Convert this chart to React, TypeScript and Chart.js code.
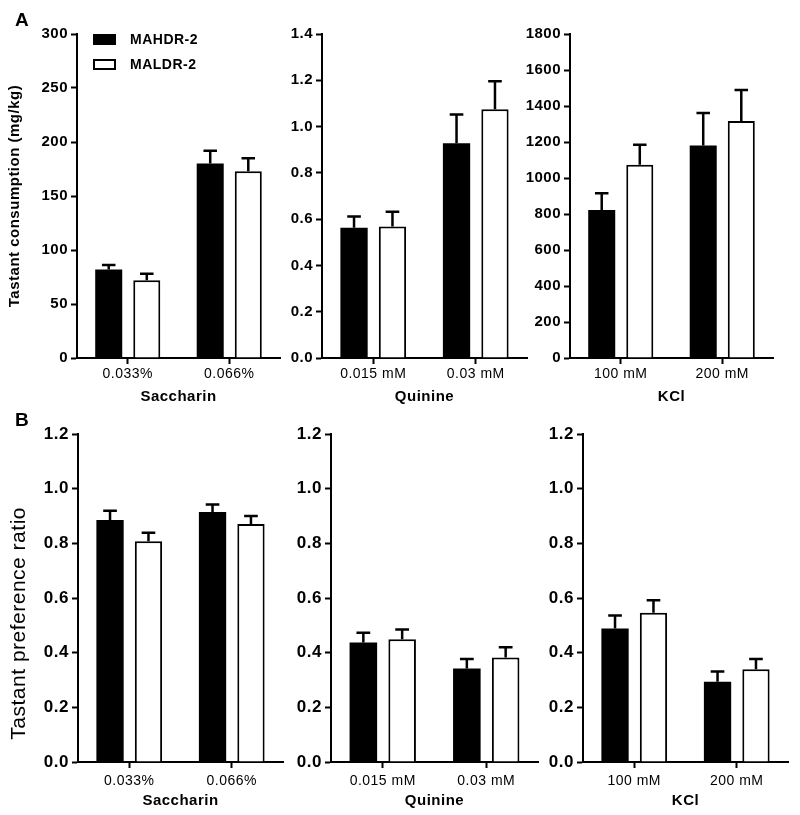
import React, { useEffect, useRef } from "react";
import { Chart, registerables } from "chart.js";

Chart.register(...registerables);

// ---------- data ----------
const SERIES_NAMES = ["MAHDR-2", "MALDR-2"];

const SACCHARIN_LABELS = ["0.033%", "0.066%"];
const QUININE_LABELS = ["0.015 mM", "0.03 mM"];
const KCL_LABELS = ["100 mM", "200 mM"];

// Panel A: tastant consumption (mg/kg) — means and SEM
const A_SAC_MAHDR = [82, 180];
const A_SAC_MAHDR_SEM = [4, 12];
const A_SAC_MALDR = [72, 173];
const A_SAC_MALDR_SEM = [6, 12];

const A_QUI_MAHDR = [0.563, 0.928];
const A_QUI_MAHDR_SEM = [0.048, 0.124];
const A_QUI_MALDR = [0.568, 1.075];
const A_QUI_MALDR_SEM = [0.064, 0.121];

const A_KCL_MAHDR = [822, 1181];
const A_KCL_MAHDR_SEM = [93, 180];
const A_KCL_MALDR = [1074, 1317];
const A_KCL_MALDR_SEM = [111, 172];

// Panel B: tastant preference ratio — means and SEM
const B_SAC_MAHDR = [0.885, 0.915];
const B_SAC_MAHDR_SEM = [0.034, 0.027];
const B_SAC_MALDR = [0.808, 0.871];
const B_SAC_MALDR_SEM = [0.031, 0.029];

const B_QUI_MAHDR = [0.437, 0.342];
const B_QUI_MAHDR_SEM = [0.036, 0.035];
const B_QUI_MALDR = [0.449, 0.382];
const B_QUI_MALDR_SEM = [0.036, 0.038];

const B_KCL_MAHDR = [0.488, 0.294];
const B_KCL_MAHDR_SEM = [0.048, 0.037];
const B_KCL_MALDR = [0.546, 0.339];
const B_KCL_MALDR_SEM = [0.046, 0.038];

const Y_TITLE_A = "Tastant consumption (mg/kg)";
const Y_TITLE_B = "Tastant preference ratio";

// ---------- layout ----------
type Panel = {
  id: string;
  x: number; y: number; w: number; h: number;
  yWidth: number; padTop: number; padRight: number; xHeight: number;
  labels: string[];
  high: number[]; highSem: number[];
  low: number[]; lowSem: number[];
  yMax: number; yStep: number; decimals: number;
  yTitle?: string; xTitle: string; row: "A" | "B"; legend?: boolean;
};

const FAMILY = '"Liberation Sans", Arial, Helvetica, sans-serif';

const PANELS: Panel[] = [
  { id: "a1", x: 0, y: 0, w: 290, h: 410, yWidth: 77, padTop: 34, padRight: 10, xHeight: 52,
    labels: SACCHARIN_LABELS, high: A_SAC_MAHDR, highSem: A_SAC_MAHDR_SEM, low: A_SAC_MALDR, lowSem: A_SAC_MALDR_SEM,
    yMax: 300, yStep: 50, decimals: 0, yTitle: Y_TITLE_A, xTitle: "Saccharin", row: "A", legend: true },
  { id: "a2", x: 280, y: 0, w: 265, h: 410, yWidth: 42, padTop: 34, padRight: 18, xHeight: 52,
    labels: QUININE_LABELS, high: A_QUI_MAHDR, highSem: A_QUI_MAHDR_SEM, low: A_QUI_MALDR, lowSem: A_QUI_MALDR_SEM,
    yMax: 1.4, yStep: 0.2, decimals: 1, xTitle: "Quinine", row: "A" },
  { id: "a3", x: 520, y: 0, w: 280, h: 410, yWidth: 50, padTop: 34, padRight: 27, xHeight: 52,
    labels: KCL_LABELS, high: A_KCL_MAHDR, highSem: A_KCL_MAHDR_SEM, low: A_KCL_MALDR, lowSem: A_KCL_MALDR_SEM,
    yMax: 1800, yStep: 200, decimals: 0, xTitle: "KCl", row: "A" },
  { id: "b1", x: 0, y: 410, w: 295, h: 405, yWidth: 78, padTop: 24, padRight: 12, xHeight: 53,
    labels: SACCHARIN_LABELS, high: B_SAC_MAHDR, highSem: B_SAC_MAHDR_SEM, low: B_SAC_MALDR, lowSem: B_SAC_MALDR_SEM,
    yMax: 1.2, yStep: 0.2, decimals: 1, yTitle: Y_TITLE_B, xTitle: "Saccharin", row: "B" },
  { id: "b2", x: 285, y: 410, w: 260, h: 405, yWidth: 46, padTop: 24, padRight: 7, xHeight: 53,
    labels: QUININE_LABELS, high: B_QUI_MAHDR, highSem: B_QUI_MAHDR_SEM, low: B_QUI_MALDR, lowSem: B_QUI_MALDR_SEM,
    yMax: 1.2, yStep: 0.2, decimals: 1, xTitle: "Quinine", row: "B" },
  { id: "b3", x: 540, y: 410, w: 260, h: 405, yWidth: 43, padTop: 24, padRight: 12, xHeight: 53,
    labels: KCL_LABELS, high: B_KCL_MAHDR, highSem: B_KCL_MAHDR_SEM, low: B_KCL_MALDR, lowSem: B_KCL_MALDR_SEM,
    yMax: 1.2, yStep: 0.2, decimals: 1, xTitle: "KCl", row: "B" },
];

// ---------- plugins ----------
const spacingPlugin = {
  id: "spacing",
  beforeDraw(chart: any) {
    (chart.ctx as any).letterSpacing = "0.5px";
  },
};

const errorBarPlugin = {
  id: "errorBars",
  afterDatasetsDraw(chart: any) {
    const ctx = chart.ctx;
    const yScale = chart.scales.y;
    chart.data.datasets.forEach((ds: any, di: number) => {
      const meta = chart.getDatasetMeta(di);
      meta.data.forEach((bar: any, i: number) => {
        const v = ds.data[i];
        const e = ds.errors[i];
        const yBar = yScale.getPixelForValue(v);
        const yTop = yScale.getPixelForValue(v + e);
        const half = bar.width * 0.25;
        ctx.save();
        ctx.strokeStyle = "#000";
        ctx.lineWidth = 2.5;
        ctx.beginPath();
        ctx.moveTo(bar.x, yBar);
        ctx.lineTo(bar.x, yTop);
        ctx.moveTo(bar.x - half, yTop);
        ctx.lineTo(bar.x + half, yTop);
        ctx.stroke();
        ctx.restore();
      });
    });
  },
};

const innerLegendPlugin = {
  id: "innerLegend",
  afterDraw(chart: any) {
    const ctx = chart.ctx;
    const { left, top } = chart.chartArea;
    chart.data.datasets.forEach((ds: any, i: number) => {
      const x = left + 16;
      const y = top + i * 25;
      ctx.save();
      ctx.fillStyle = ds.backgroundColor;
      ctx.fillRect(x, y, 23, 11);
      ctx.lineWidth = 2;
      ctx.strokeStyle = "#000";
      ctx.strokeRect(x + 1, y + 1, 21, 9);
      ctx.font = `bold 14px ${FAMILY}`;
      ctx.fillStyle = "#000";
      ctx.textBaseline = "middle";
      ctx.textAlign = "left";
      ctx.fillText(ds.label, x + 37, y + 6);
      ctx.restore();
    });
  },
};

function buildConfig(p: Panel): any {
  const isA = p.row === "A";
  const yTickSize = isA ? 15 : 17;
  const xTitleSize = isA ? 15 : 15;
  const xTitleLH = xTitleSize * 1.2;
  const xTitleCenterFromBottom = isA ? 13 : 14;
  const plugins: any[] = [spacingPlugin, errorBarPlugin];
  if (p.legend) plugins.push(innerLegendPlugin);
  // the B title sits lower than the centre of its axis in the reference
  const yTitleText = p.yTitle ? (isA ? p.yTitle : p.yTitle + "        ") : "";
  return {
    type: "bar",
    data: {
      labels: p.labels,
      datasets: [
        {
          label: SERIES_NAMES[0], data: p.high, errors: p.highSem,
          backgroundColor: "#000000", borderColor: "#000000", borderWidth: 0,
          categoryPercentage: 0.75, barPercentage: 0.71,
        },
        {
          label: SERIES_NAMES[1], data: p.low, errors: p.lowSem,
          backgroundColor: "#ffffff", borderColor: "#000000", borderWidth: 2,
          categoryPercentage: 0.75, barPercentage: 0.71,
        },
      ],
    },
    options: {
      responsive: false,
      animation: false,
      devicePixelRatio: 1,
      layout: { padding: { top: p.padTop, right: p.padRight, left: 0, bottom: 0 } },
      plugins: {
        legend: { display: false },
        tooltip: { enabled: false },
        title: { display: false },
      },
      scales: {
        x: {
          z: 1,
          offset: true,
          ticks: { color: "#000", font: { family: FAMILY, size: 14 }, padding: isA ? 2 : 5 },
          grid: { display: true, offset: false, drawOnChartArea: false, drawTicks: true, tickLength: 6, tickWidth: 2, tickColor: "#000" },
          border: { display: true, color: "#000", width: 2 },
          title: {
            display: true, text: p.xTitle, color: "#000",
            font: { family: FAMILY, size: xTitleSize, weight: "bold" },
            padding: { top: 0, bottom: Math.max(0, xTitleCenterFromBottom - xTitleLH / 2) },
          },
          afterFit: (s: any) => { s.height = p.xHeight; },
        },
        y: {
          z: 1,
          min: 0,
          max: p.yMax,
          ticks: {
            stepSize: p.yStep, color: "#000", padding: 3,
            font: { family: FAMILY, size: yTickSize, weight: "bold" },
            callback: (v: any) => Number(v).toFixed(p.decimals),
          },
          grid: { display: true, drawOnChartArea: false, drawTicks: true, tickLength: 6, tickWidth: 2, tickColor: "#000" },
          border: { display: true, color: "#000", width: 2 },
          title: p.yTitle
            ? {
                display: true, text: yTitleText, color: "#000",
                font: isA
                  ? { family: FAMILY, size: 15, weight: "bold" }
                  : { family: FAMILY, size: 21, weight: "normal" },
                padding: { top: isA ? 6 : 7, bottom: 0 },
              }
            : { display: false },
          afterFit: (s: any) => { s.width = p.yWidth; },
        },
      },
    },
    plugins,
  };
}

function PanelChart({ p }: { p: Panel }) {
  const ref = useRef<HTMLCanvasElement | null>(null);
  useEffect(() => {
    if (!ref.current) return;
    const chart = new Chart(ref.current, buildConfig(p));
    return () => chart.destroy();
  }, [p]);
  return (
    <canvas
      ref={ref}
      width={p.w}
      height={p.h}
      style={{ position: "absolute", left: p.x, top: p.y, width: p.w, height: p.h }}
    />
  );
}

export default function App() {
  const letterStyle: React.CSSProperties = {
    position: "absolute",
    fontFamily: FAMILY,
    fontWeight: "bold",
    fontSize: 19,
    lineHeight: "19px",
    color: "#000",
  };
  return (
    <div style={{ position: "absolute", left: 0, top: 0, width: 800, height: 815, background: "#fff", overflow: "hidden" }}>
      {PANELS.map((p) => (
        <PanelChart key={p.id} p={p} />
      ))}
      <div style={{ ...letterStyle, left: 15, top: 10 }}>A</div>
      <div style={{ ...letterStyle, left: 15, top: 410 }}>B</div>
    </div>
  );
}
